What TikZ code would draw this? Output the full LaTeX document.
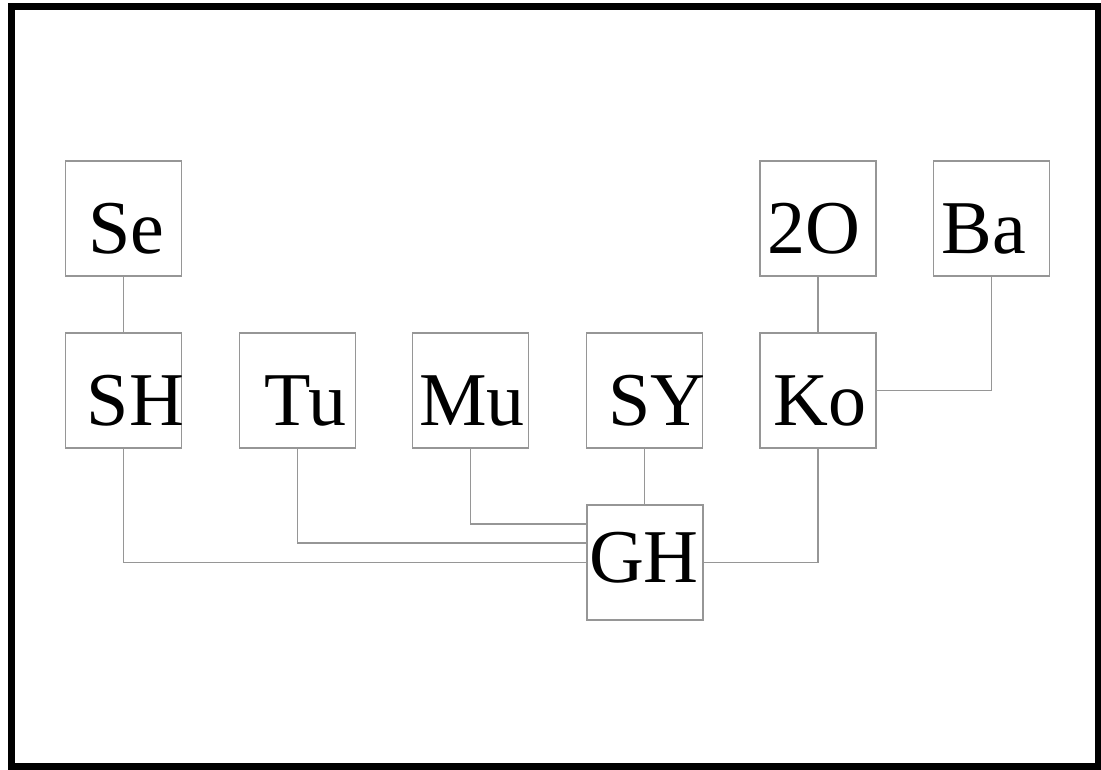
\documentclass[tikz,border=0pt]{standalone}
\usepackage{fontspec}
\setmainfont{Liberation Serif}
\definecolor{boxgray}{RGB}{150,150,150}
\begin{document}
\begin{tikzpicture}[x=1pt,y=-1pt,
  box/.style={draw=boxgray,line width=1.2pt,minimum width=116pt,minimum height=115pt,inner sep=0pt,fill=white},
  txt/.style={font=\fontsize{76}{80}\selectfont,inner sep=0pt},
  link/.style={draw=boxgray,line width=1.2pt}]
\useasboundingbox (0,0) rectangle (1101,770);
\fill[white] (0,0) rectangle (1101,770);
\draw[line width=7pt] (11,7) rectangle (1098,766);
\node[box] (Se) at (123.5,218.5) {};
\node[box] (SH) at (123.5,390.5) {};
\node[box] (Tu) at (297.5,390.5) {};
\node[box] (Mu) at (470.5,390.5) {};
\node[box] (SY) at (644.5,390.5) {};
\node[box] (Ko) at (818,390.5) {};
\node[box] (GH) at (645,562.5) {};
\node[box] (2O) at (818,218.5) {};
\node[box] (Ba) at (991.5,218.5) {};
\node[txt] (SeT) at ([shift={(2.5,10)}]Se.center) {Se};
\node[txt] (SHT) at ([shift={(12,10)}]SH.center) {SH};
\node[txt] (TuT) at ([shift={(8,10)}]Tu.center) {Tu};
\node[txt] (MuT) at ([shift={(1.5,10)}]Mu.center) {Mu};
\node[txt] (SYT) at ([shift={(12.5,10)}]SY.center) {SY};
\node[txt] (KoT) at ([shift={(2,10)}]Ko.center) {Ko};
\node[txt] (GHT) at ([shift={(-1,-5)}]GH.center) {GH};
\node[txt] (2OT) at ([shift={(-4.5,10)}]2O.center) {2O};
\node[txt] (BaT) at ([shift={(-7.5,10)}]Ba.center) {Ba};
\coordinate (tuY) at (0,543);
\coordinate (muY) at (0,524);
\draw[link] (Se.south) -- (SH.north);
\draw[link] (2O.south) -- (Ko.north);
\draw[link] (Ba.south) |- (Ko.east);
\draw[link] (SH.south) |- (GH.west);
\draw[link] (Tu.south) |- (GH.west |- tuY);
\draw[link] (Mu.south) |- (GH.west |- muY);
\draw[link] (SY.south) -- (GH.north -| SY.south);
\draw[link] (Ko.south) |- (GH.east);
\end{tikzpicture}
\end{document}
